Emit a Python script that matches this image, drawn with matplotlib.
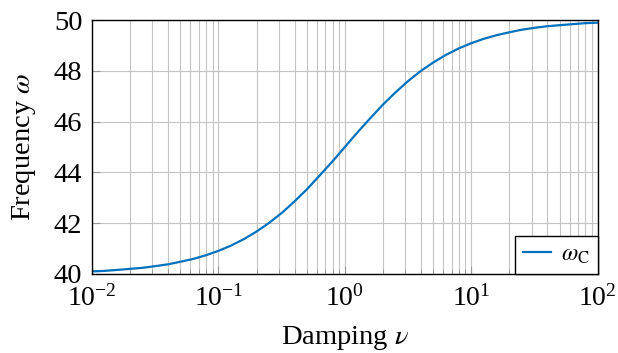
import matplotlib
matplotlib.use("Agg")
import matplotlib.pyplot as plt

# damping values and corresponding frequency
damping = [0.01, 0.0125, 0.016, 0.02, 0.025, 0.032, 0.04, 0.05, 0.063, 0.08,
           0.1, 0.125, 0.16, 0.2, 0.25, 0.32, 0.4, 0.5, 0.63, 0.8,
           1.0, 1.25, 1.6, 2.0, 2.5, 3.2, 4.0, 5.0, 6.3, 8.0,
           10.0, 12.5, 16.0, 20.0, 25.0, 32.0, 40.0, 50.0, 63.0, 80.0, 100.0]
omega_c = [40.10, 40.12, 40.16, 40.20, 40.24, 40.31, 40.38, 40.48, 40.59, 40.74,
           40.91, 41.11, 41.38, 41.67, 42.00, 42.42, 42.86, 43.33, 43.87, 44.44,
           45.00, 45.56, 46.15, 46.67, 47.14, 47.62, 48.00, 48.33, 48.63, 48.89,
           49.09, 49.26, 49.41, 49.52, 49.62, 49.70, 49.76, 49.80, 49.84, 49.88, 49.90]
y_ticks = [40, 42, 44, 46, 48, 50]

plt.rcParams["font.family"] = ["Liberation Serif", "DejaVu Serif"]
plt.rcParams["mathtext.fontset"] = "stix"

fig = plt.figure(figsize=(6.18, 3.53), dpi=100)
ax = fig.add_axes([0.149, 0.224, 0.818, 0.719])

ax.plot(damping, omega_c, color="#0072BD", lw=1.6, label=r"$\omega_\mathrm{C}$")
ax.set_xscale("log")
ax.set_xlim(1e-2, 1e2)
ax.set_ylim(40, 50)
ax.set_yticks(y_ticks)

ax.grid(True, which="major", color="#c4c4c4", lw=0.8)
ax.grid(True, which="minor", axis="x", color="#c4c4c4", lw=0.8)
ax.tick_params(which="both", direction="in", color="#9a9a9a", top=False, right=False)
ax.tick_params(which="major", length=6)
ax.tick_params(which="minor", length=3.5)
ax.tick_params(axis="y", labelsize=20.5, pad=7)
ax.tick_params(axis="x", labelsize=20, pad=8)
for s in ax.spines.values():
    s.set_linewidth(1.0)

ax.set_xlabel(r"Damping $\nu$", fontsize=20.5, labelpad=9)
ax.set_ylabel(r"Frequency $\omega$", fontsize=20.5, labelpad=11)

leg = ax.legend(loc="lower right", fontsize=17, fancybox=False, framealpha=1,
                edgecolor="black", borderaxespad=0, handlelength=1.2,
                borderpad=0.35, handletextpad=0.4)
leg.get_frame().set_linewidth(1.0)

fig.savefig("out.png", dpi=100)
